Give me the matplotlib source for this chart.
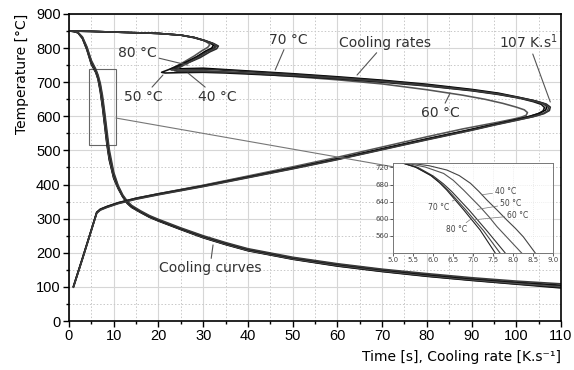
import matplotlib
matplotlib.use('Agg')
import matplotlib.pyplot as plt
import numpy as np

# cooling curves: temperature vs time (main chart)
t_main = [0, 1, 2, 3, 4, 5, 6, 6.5, 7, 7.5, 8, 8.5, 9, 10, 11, 12, 13, 14, 16, 18, 20,
          25, 30, 35, 40, 50, 60, 70, 80, 90, 100, 110]
T_cool_80 = [850, 849, 845, 828, 795, 752, 728, 708, 672, 625, 570, 515, 472, 418, 388, 364,
             345, 333, 318, 304, 293, 268, 244, 224, 206, 181, 161, 145, 131, 119, 108, 97]
T_cool_70 = [850, 849, 845, 829, 796, 754, 730, 710, 676, 630, 575, 520, 476, 420, 389, 365,
             346, 334, 319, 305, 294, 269, 245, 225, 207, 182, 162, 146, 132, 120, 109, 99]
T_cool_60 = [850, 849, 845, 830, 798, 757, 732, 713, 682, 638, 584, 528, 482, 424, 391, 366,
             347, 335, 320, 306, 295, 270, 246, 226, 208, 183, 164, 148, 134, 122, 111, 102]
T_cool_50 = [850, 849, 846, 831, 801, 760, 735, 717, 690, 650, 598, 542, 492, 430, 394, 368,
             349, 336, 321, 307, 296, 271, 248, 228, 210, 185, 166, 150, 136, 124, 114, 105]
T_cool_40 = [850, 849, 846, 833, 804, 764, 738, 721, 697, 660, 610, 556, 503, 436, 397, 370,
             352, 339, 323, 309, 298, 273, 250, 230, 212, 187, 168, 152, 139, 127, 117, 109]

# cooling rate curves: temperature vs cooling rate
r_70 = [0, 5, 10, 15, 20, 25, 28, 30.5, 32.4, 33.4, 33.0, 31.5, 29.3, 26.5, 24.3, 23.0, 23.6, 26,
        30, 35, 40, 50, 60, 70, 80, 90, 96, 101, 104.6, 106.7, 107.6, 107.4, 106.2, 103.8, 100,
        95, 90, 80, 70, 60, 50, 40, 30, 20, 15, 11, 8.5, 7, 6.2, 5, 3, 1]
T_r_70 = [850, 849, 847, 845, 843, 838, 831, 822, 813, 806, 798, 789, 772, 756, 744, 737, 735,
          737, 738, 735, 731, 723, 714, 704, 692, 677, 666, 654, 644, 636, 627, 617, 608, 599,
          589, 575, 560, 532, 503, 474, 447, 421, 395, 371, 358, 345, 334, 326, 317, 266, 182, 100]
r_80 = [0, 5, 10, 15, 20, 25, 28, 30, 31.6, 32.3, 31.9, 30.5, 28.6, 26.2, 24.5, 23.5, 24.0, 26.5,
        30, 35, 40, 50, 60, 70, 80, 90, 96, 100.5, 104, 106, 106.8, 106.6, 105.4, 103, 99.5,
        95, 90, 80, 70, 60, 50, 40, 30, 20, 15, 11, 8.5, 7, 6.2, 5, 3, 1]
T_r_80 = [850, 849, 847, 845, 843, 838, 831, 823, 815, 808, 800, 791, 775, 759, 748, 741, 739,
          740, 741, 737, 733, 725, 716, 706, 694, 679, 668, 656, 646, 638, 629, 619, 610, 600,
          590, 577, 562, 534, 505, 476, 449, 423, 397, 373, 360, 347, 336, 328, 319, 268, 184, 102]
r_60 = [0, 5, 10, 15, 20, 25, 28, 30, 31, 31.5, 31.0, 29.8, 28.0, 25.8, 24.0, 22.6, 23.0, 25.5,
        30, 35, 40, 50, 60, 70, 80, 88, 93, 97, 100, 101.8, 102.5, 102.2, 101, 99, 96,
        92, 88, 80, 70, 60, 50, 40, 30, 20, 15, 11, 8.5, 7, 6.2, 5, 3, 1]
T_r_60 = [850, 849, 847, 845, 843, 838, 830, 823, 816, 810, 802, 793, 777, 760, 747, 738, 735,
          735, 734, 730, 726, 717, 707, 695, 678, 662, 650, 638, 627, 619, 611, 603, 597, 591,
          583, 573, 563, 540, 510, 480, 452, 425, 398, 373, 360, 346, 335, 327, 318, 267, 183, 101]
r_50 = [0, 5, 10, 15, 20, 25, 28, 30.3, 32, 32.8, 32.3, 30.6, 28.0, 25.0, 22.5, 20.7, 21.5, 24.5,
        30, 35, 40, 50, 60, 70, 80, 90, 96, 100.8, 103.8, 105.6, 106.3, 106.0, 104.8, 102.5, 99,
        95, 90, 80, 70, 60, 50, 40, 30, 20, 15, 11, 8.5, 7, 6.2, 5, 3, 1]
T_r_50 = [850, 849, 847, 845, 843, 838, 831, 822, 814, 807, 799, 789, 770, 752, 738, 729, 727,
          728, 729, 727, 724, 718, 710, 700, 689, 675, 664, 653, 643, 635, 626, 616, 607, 598,
          588, 576, 561, 533, 504, 475, 448, 422, 396, 372, 359, 346, 335, 327, 318, 267, 183, 101]
r_40 = [0, 5, 10, 15, 20, 25, 28, 30.3, 32.1, 33.0, 32.6, 31.0, 28.8, 26.3, 24.6, 23.6, 24.2, 26.5,
        30, 35, 40, 50, 60, 70, 80, 90, 96, 101, 104.4, 106.4, 107.2, 107.0, 105.8, 103.4, 100,
        95, 90, 80, 70, 60, 50, 40, 30, 20, 15, 11, 8.5, 7, 6.2, 5, 3, 1]
T_r_40 = [850, 849, 847, 845, 843, 838, 831, 822, 814, 807, 799, 790, 772, 755, 742, 734, 732,
          732, 732, 730, 727, 720, 712, 702, 690, 676, 665, 653, 643, 635, 626, 616, 607, 598,
          588, 574, 559, 531, 502, 473, 446, 420, 394, 370, 357, 344, 333, 325, 316, 265, 181, 99]

# inset (zoom of cooling curves)
ti_40 = [5.42, 5.9, 6.34, 6.65, 6.93, 7.14, 7.34, 7.6, 7.84, 8.05, 8.25, 8.55]
Ti_40 = [730, 724, 714, 701, 683, 664, 644, 620, 597, 578, 558, 520]
ti_50 = [5.32, 5.8, 6.26, 6.5, 6.76, 6.97, 7.17, 7.4, 7.59, 7.9, 8.21]
Ti_50 = [730, 721, 706, 690, 667, 647, 628, 604, 582, 551, 520]
ti_60 = [5.26, 5.62, 6.0, 6.25, 6.46, 6.9, 7.35, 7.8]
Ti_60 = [730, 720, 700, 682, 664, 620, 571, 520]
ti_70 = [5.25, 5.58, 5.96, 6.2, 6.4, 6.82, 7.25, 7.67]
Ti_70 = [730, 720, 700, 682, 664, 620, 573, 520]
ti_80 = [5.24, 5.55, 5.93, 6.15, 6.34, 6.76, 7.17, 7.55]
Ti_80 = [730, 721, 702, 685, 667, 621, 574, 520]

fig = plt.figure(figsize=(5.74, 3.70), dpi=100)
ax = fig.add_axes([0.1202, 0.1324, 0.8572, 0.8298])

grey_major = '#d6d6d6'
grey_minor = '#c8c8c8'

ax.set_xlim(0, 110)
ax.set_ylim(0, 900)
ax.set_xticks(np.arange(0, 111, 10))
ax.set_xticks(np.arange(5, 110, 10), minor=True)
ax.set_yticks(np.arange(0, 901, 100))
ax.set_yticks(np.arange(50, 900, 100), minor=True)
ax.grid(which='major', color=grey_major, lw=0.8, ls='-')
ax.grid(which='minor', color=grey_minor, lw=0.7, ls=(0, (1.5, 2)))
ax.set_axisbelow(True)
ax.tick_params(which='major', direction='out', length=4, width=1, labelsize=10.5, pad=2)
ax.tick_params(which='minor', direction='out', length=2.5, width=1)
for s in ax.spines.values():
    s.set_linewidth(1.2)
for lab in ax.get_xticklabels() + ax.get_yticklabels():
    lab.set_fontfamily('Liberation Sans')

cols = ['#000000', '#2a2a2a', '#555555', '#111111', '#3a3a3a']
for T, c in zip([T_cool_80, T_cool_70, T_cool_60, T_cool_50, T_cool_40], cols):
    ax.plot(t_main, T, color=c, lw=1.15)
for r, T, c in zip([r_80, r_70, r_60, r_50, r_40], [T_r_80, T_r_70, T_r_60, T_r_50, T_r_40], cols):
    ax.plot(r, T, color=c, lw=1.15)

ax.set_xlabel('Time [s], Cooling rate [K.s⁻¹]', loc='right', fontsize=10, labelpad=5)
ax.set_ylabel('Temperature [°C]', loc='top', fontsize=10, labelpad=5)

lead = dict(arrowstyle='-', color='#555555', lw=0.8, shrinkA=0, shrinkB=0)
fs = 10
ax.annotate('80 °C', xy=(26.6, 750), xytext=(15.2, 786), fontsize=fs, color='#333333',
            ha='center', va='center', arrowprops=lead)
ax.annotate('50 °C', xy=(21, 721), xytext=(16.6, 657), fontsize=fs, color='#333333',
            ha='center', va='center', arrowprops=lead)
ax.annotate('40 °C', xy=(26.6, 727), xytext=(33.1, 657), fontsize=fs, color='#333333',
            ha='center', va='center', arrowprops=lead)
ax.annotate('70 °C', xy=(46.1, 736), xytext=(49, 824), fontsize=fs, color='#333333',
            ha='center', va='center', arrowprops=lead)
ax.annotate('Cooling rates', xy=(64.4, 721), xytext=(70.7, 815), fontsize=fs, color='#333333',
            ha='center', va='center', arrowprops=lead)
ax.annotate('107 K.s$^{\\mathregular{1}}$', xy=(107.6, 642), xytext=(102.7, 818), fontsize=fs,
            color='#333333', ha='center', va='center', arrowprops=lead)
ax.annotate('60 °C', xy=(85.2, 668), xytext=(83, 610), fontsize=fs, color='#333333',
            ha='center', va='center', arrowprops=lead)
ax.annotate('Cooling curves', xy=(32.2, 223), xytext=(31.5, 155), fontsize=fs, color='#333333',
            ha='center', va='center', arrowprops=lead)

# zoom box and arrow to inset
ax.add_patch(plt.Rectangle((4.5, 515), 6, 225, fill=False, ec='#666666', lw=0.8))
ax.annotate('', xy=(86.8, 419), xytext=(10.5, 595),
            arrowprops=dict(arrowstyle='-|>,head_length=0.5,head_width=0.2', color='#777777',
                            lw=0.8, shrinkA=0, shrinkB=0))

# inset
axi = fig.add_axes([0.685, 0.316, 0.279, 0.243])
axi.set_xlim(5.0, 9.0)
axi.set_ylim(520, 730)
axi.set_xticks(np.arange(5.0, 9.01, 0.5))
axi.set_yticks(np.arange(560, 721, 40))
axi.set_xticklabels(['%.1f' % v for v in np.arange(5.0, 9.01, 0.5)])
axi.grid(color='#dddddd', lw=0.5, ls=(0, (1, 2)))
axi.tick_params(labelsize=5, length=2, width=0.6, pad=1, colors='#444444')
for s in axi.spines.values():
    s.set_linewidth(0.7)
    s.set_color('#777777')
icol = ['#444444', '#555555', '#333333', '#444444', '#222222']
for tt, TT, c in zip([ti_40, ti_50, ti_60, ti_70, ti_80], [Ti_40, Ti_50, Ti_60, Ti_70, Ti_80], icol):
    axi.plot(tt, TT, color=c, lw=0.8)

ilead = dict(arrowstyle='-', color='#777777', lw=0.5, shrinkA=0, shrinkB=0)
ifs = 5.5
axi.annotate('40 °C', xy=(7.2, 656), xytext=(7.55, 664), fontsize=ifs, color='#444444',
             ha='left', va='center', arrowprops=ilead)
axi.annotate('50 °C', xy=(7.1, 622), xytext=(7.68, 635), fontsize=ifs, color='#444444',
             ha='left', va='center', arrowprops=ilead)
axi.annotate('60 °C', xy=(7.05, 598), xytext=(7.85, 608), fontsize=ifs, color='#444444',
             ha='left', va='center', arrowprops=ilead)
axi.annotate('70 °C', xy=(6.55, 645), xytext=(6.14, 626), fontsize=ifs, color='#444444',
             ha='center', va='center', arrowprops=ilead)
axi.annotate('80 °C', xy=(6.95, 600), xytext=(6.58, 574), fontsize=ifs, color='#444444',
             ha='center', va='center', arrowprops=ilead)

fig.savefig('out.png', dpi=100)
